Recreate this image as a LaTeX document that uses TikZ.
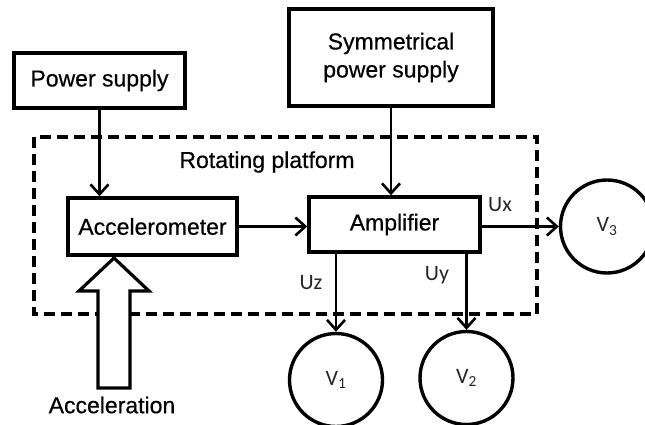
\documentclass[tikz,border=0pt]{standalone}
\usepackage{fontspec}
\setmainfont{Liberation Sans}[RawFeature={embolden=0.5}]
\newfontfamily\labfont{Carlito}
\usetikzlibrary{arrows.meta}
\tikzset{
  blockbox/.style={draw, line width=3.4pt, inner sep=0pt, font=\fontsize{23}{28}\selectfont, align=center},
  meter/.style={draw, circle, line width=3.4pt, inner sep=0pt, minimum size=93pt, text=black!85, font=\labfont\fontsize{22}{26}\selectfont},
  conn/.style={line width=2.6pt, -{Straight Barb[length=10pt,width=18pt]}},
  sig/.style={text=black!85, font=\labfont\fontsize{22}{26}\selectfont, inner sep=0pt},
  plain/.style={font=\fontsize{23}{28}\selectfont, inner sep=0pt},
  platform/.style={line width=3.2pt, dash pattern=on 11pt off 6pt},
  bigarrow/.style={draw, line width=3.2pt, fill=white, line join=miter}
}
\begin{document}
\begin{tikzpicture}[x=1pt,y=-1pt]
\useasboundingbox (0,0) rectangle (645,425);
% platform
\draw[platform] (34,137) rectangle (537,314);
\node[plain] (plat) at (267,162) {Rotating platform};
% blocks
\node[blockbox, minimum width=171pt, minimum height=55pt] (ps) at (99.5,80.5) {Power supply};
\node[blockbox, minimum width=204pt, minimum height=97pt] (sym) at (391,57.5) {Symmetrical\\power supply};
\node[blockbox, minimum width=169pt, minimum height=57pt, fill=white] (acc) at (152.5,226.5) {Accelerometer};
\node[blockbox, minimum width=171pt, minimum height=55pt, fill=white] (amp) at (394.5,224.5) {Amplifier};
% meters
\node[meter] (v1) at (336,380) {V\textsubscript{1}};
\node[meter] (v2) at (466.5,378) {V\textsubscript{2}};
\node[meter] (v3) at (607,226.5) {V\textsubscript{3}};
% connectors
\draw[conn] (ps.south) -- (ps.south |- acc.north);
\draw[conn] (sym.south) -- (sym.south |- amp.north);
\draw[conn] (acc.east) -- (acc.east -| amp.west);
\draw[conn] (amp.east |- v3.west) -- (v3.west);
\draw[conn] (v1.north |- amp.south) -- (v1.north);
\draw[conn] (v2.north |- amp.south) -- (v2.north);
% signal labels
\node[sig] (ux) at (500,205) {Ux};
\node[sig] (uy) at (437,275) {Uy};
\node[sig] (uz) at (311,283) {Uz};
% acceleration arrow
\draw[bigarrow] (98,388) -- (98,291) -- (79,291) -- (114,258) -- (149,291) -- (130,291) -- (130,388) -- cycle;
\node[plain] (accl) at (112,405) {Acceleration};
\end{tikzpicture}
\end{document}
